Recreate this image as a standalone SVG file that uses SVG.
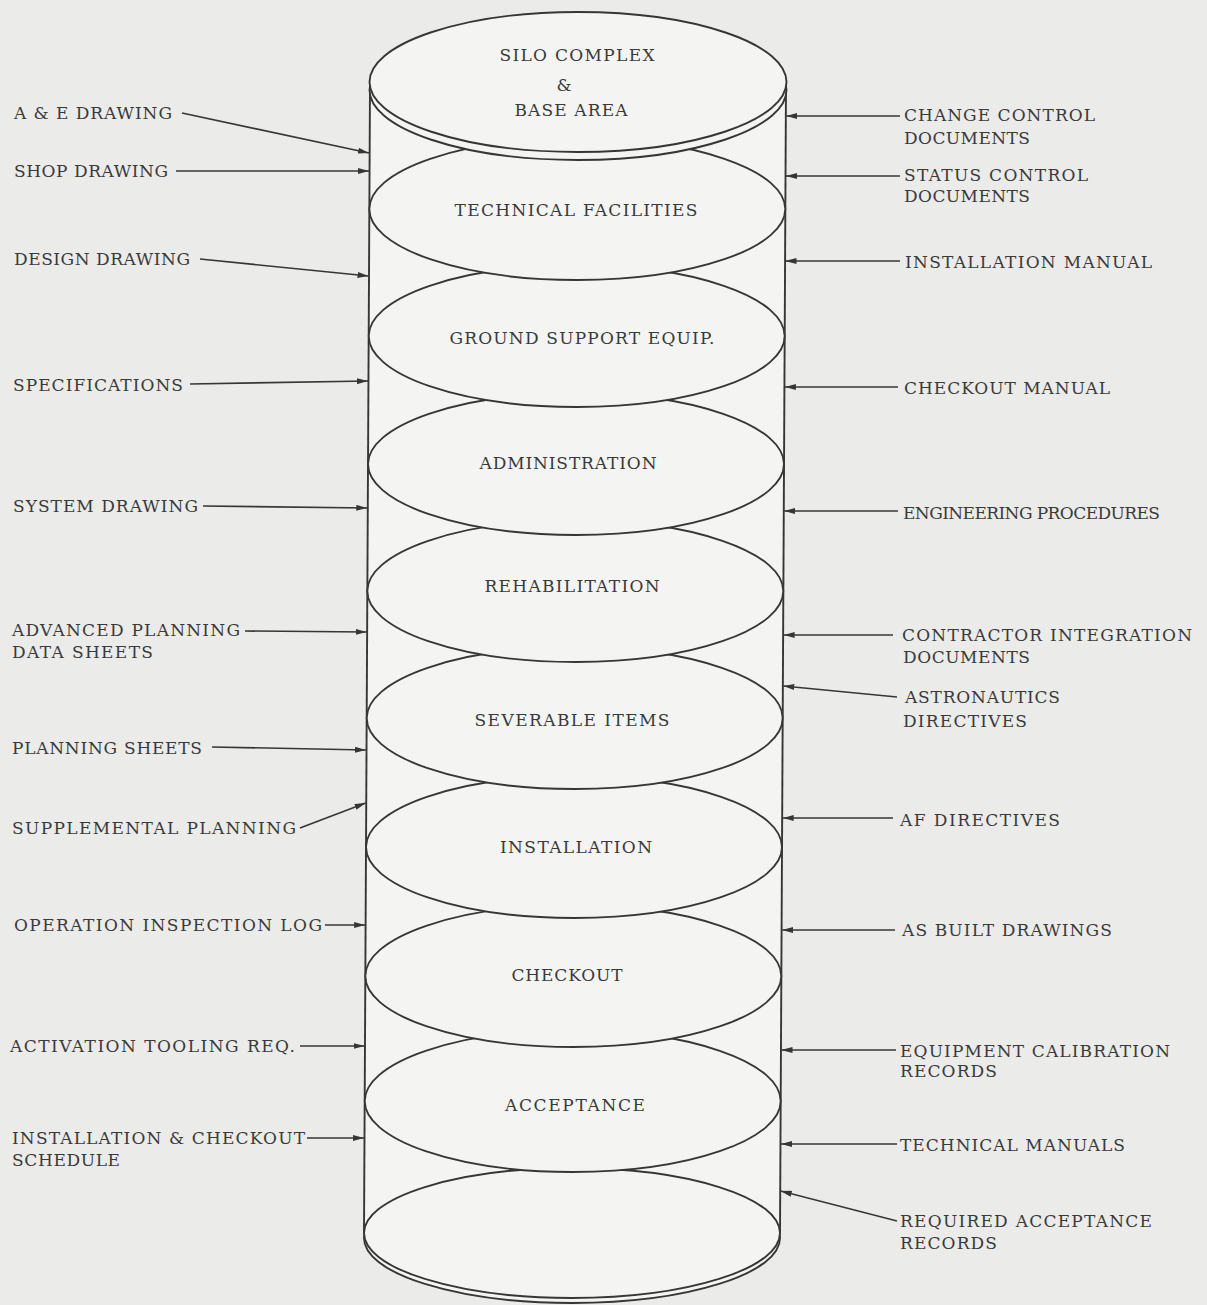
<svg xmlns="http://www.w3.org/2000/svg" width="1207" height="1305" viewBox="0 0 1207 1305">
  <style>
    .bg { fill: #ebebe9; }
    .body { fill: #f4f4f2; stroke: none; }
    .side { stroke: #363636; stroke-width: 1.9; fill: none; }
    .disc { fill: #f4f4f2; stroke: #363636; stroke-width: 1.9; }
    .lbl { font-family: "DejaVu Serif", "Liberation Serif", serif; font-size: 17px; fill: #3a3a3a; }
    .mid { text-anchor: middle; }
    .conn { stroke: #363636; stroke-width: 1.6; fill: none; marker-end: url(#tip); }
  </style>
  <defs>
    <marker id="tip" viewBox="0 0 11 6" refX="11" refY="3" markerWidth="11" markerHeight="6" markerUnits="userSpaceOnUse" orient="auto">
      <path d="M0,0 L11,3 L0,6 Z" fill="#363636"/>
    </marker>
  </defs>

  <rect class="bg" x="0" y="0" width="1207" height="1305"/>

  <!-- cylinder body and walls -->
  <g id="cylinder-body">
    <path class="body" d="M370,85 L786,85 L780,1233 L364,1233 Z"/>
    <line class="side" x1="370" y1="85" x2="364" y2="1233"/>
    <line class="side" x1="786" y1="85" x2="780" y2="1233"/>
  </g>

  <!-- stacked discs, drawn from the bottom up so each upper disc covers the one below -->
  <g id="base-disc">
    <ellipse class="disc" cx="572" cy="1238" rx="208" ry="65"/>
    <ellipse class="disc" cx="572" cy="1233" rx="208" ry="65"/>
  </g>
  <g id="acceptance">
    <ellipse class="disc" cx="572.7" cy="1101" rx="208" ry="71"/>
    <text class="lbl mid" x="575" y="1111" textLength="140" lengthAdjust="spacing">ACCEPTANCE</text>
  </g>
  <g id="checkout">
    <ellipse class="disc" cx="573.3" cy="976" rx="208" ry="71"/>
    <text class="lbl mid" x="567" y="981" textLength="111" lengthAdjust="spacing">CHECKOUT</text>
  </g>
  <g id="installation">
    <ellipse class="disc" cx="574" cy="847" rx="208" ry="71"/>
    <text class="lbl mid" x="576" y="853" textLength="152" lengthAdjust="spacing">INSTALLATION</text>
  </g>
  <g id="severable-items">
    <ellipse class="disc" cx="574.7" cy="718" rx="208" ry="71"/>
    <text class="lbl mid" x="572" y="726" textLength="195" lengthAdjust="spacing">SEVERABLE ITEMS</text>
  </g>
  <g id="rehabilitation">
    <ellipse class="disc" cx="575.3" cy="591" rx="208" ry="71"/>
    <text class="lbl mid" x="572" y="592" textLength="175" lengthAdjust="spacing">REHABILITATION</text>
  </g>
  <g id="administration">
    <ellipse class="disc" cx="576" cy="464" rx="208" ry="71"/>
    <text class="lbl mid" x="568" y="469" textLength="177" lengthAdjust="spacing">ADMINISTRATION</text>
  </g>
  <g id="ground-support-equip">
    <ellipse class="disc" cx="576.7" cy="336" rx="208" ry="71"/>
    <text class="lbl mid" x="582" y="344" textLength="265" lengthAdjust="spacing">GROUND SUPPORT EQUIP.</text>
  </g>
  <g id="technical-facilities">
    <ellipse class="disc" cx="577.3" cy="209" rx="208" ry="71"/>
    <text class="lbl mid" x="576" y="216" textLength="243" lengthAdjust="spacing">TECHNICAL FACILITIES</text>
  </g>
  <g id="silo-complex">
    <ellipse class="disc" cx="578" cy="90" rx="208.5" ry="70"/>
    <ellipse class="disc" cx="578" cy="82" rx="208.5" ry="70"/>
    <text class="lbl mid" x="577" y="61" textLength="155" lengthAdjust="spacing">SILO COMPLEX</text>
    <text class="lbl mid" x="564" y="91">&amp;</text>
    <text class="lbl mid" x="571" y="116" textLength="113" lengthAdjust="spacing">BASE AREA</text>
  </g>

  <!-- left-hand inputs -->
  <g id="in-ae-drawing"><text class="lbl" x="14" y="119" textLength="158" lengthAdjust="spacing">A &amp; E DRAWING</text></g>
  <g id="in-shop-drawing"><text class="lbl" x="14" y="177" textLength="154" lengthAdjust="spacing">SHOP DRAWING</text></g>
  <g id="in-design-drawing"><text class="lbl" x="14" y="265" textLength="176" lengthAdjust="spacing">DESIGN DRAWING</text></g>
  <g id="in-specifications"><text class="lbl" x="13" y="391" textLength="170" lengthAdjust="spacing">SPECIFICATIONS</text></g>
  <g id="in-system-drawing"><text class="lbl" x="13" y="512" textLength="185" lengthAdjust="spacing">SYSTEM DRAWING</text></g>
  <g id="in-advanced-planning">
    <text class="lbl" x="12" y="636" textLength="228" lengthAdjust="spacing">ADVANCED PLANNING</text>
    <text class="lbl" x="12" y="658" textLength="141" lengthAdjust="spacing">DATA SHEETS</text>
  </g>
  <g id="in-planning-sheets"><text class="lbl" x="12" y="754" textLength="190" lengthAdjust="spacing">PLANNING SHEETS</text></g>
  <g id="in-supplemental-planning"><text class="lbl" x="12" y="834" textLength="284" lengthAdjust="spacing">SUPPLEMENTAL PLANNING</text></g>
  <g id="in-operation-inspection-log"><text class="lbl" x="14" y="931" textLength="308" lengthAdjust="spacing">OPERATION INSPECTION LOG</text></g>
  <g id="in-activation-tooling"><text class="lbl" x="10" y="1052" textLength="285" lengthAdjust="spacing">ACTIVATION TOOLING REQ.</text></g>
  <g id="in-ic-schedule">
    <text class="lbl" x="12" y="1144" textLength="293" lengthAdjust="spacing">INSTALLATION &amp; CHECKOUT</text>
    <text class="lbl" x="12" y="1166" textLength="108" lengthAdjust="spacing">SCHEDULE</text>
  </g>

  <!-- right-hand inputs -->
  <g id="in-change-control">
    <text class="lbl" x="904" y="121" textLength="191" lengthAdjust="spacing">CHANGE CONTROL</text>
    <text class="lbl" x="904" y="144" textLength="126" lengthAdjust="spacing">DOCUMENTS</text>
  </g>
  <g id="in-status-control">
    <text class="lbl" x="904" y="181" textLength="184" lengthAdjust="spacing">STATUS CONTROL</text>
    <text class="lbl" x="904" y="202" textLength="126" lengthAdjust="spacing">DOCUMENTS</text>
  </g>
  <g id="in-installation-manual"><text class="lbl" x="905" y="268" textLength="247" lengthAdjust="spacing">INSTALLATION MANUAL</text></g>
  <g id="in-checkout-manual"><text class="lbl" x="904" y="394" textLength="206" lengthAdjust="spacing">CHECKOUT MANUAL</text></g>
  <g id="in-engineering-procedures"><text class="lbl" x="903" y="519" textLength="257" lengthAdjust="spacing">ENGINEERING PROCEDURES</text></g>
  <g id="in-contractor-integration">
    <text class="lbl" x="902" y="641" textLength="290" lengthAdjust="spacing">CONTRACTOR INTEGRATION</text>
    <text class="lbl" x="903" y="663" textLength="127" lengthAdjust="spacing">DOCUMENTS</text>
  </g>
  <g id="in-astronautics-directives">
    <text class="lbl" x="905" y="703" textLength="155" lengthAdjust="spacing">ASTRONAUTICS</text>
    <text class="lbl" x="903" y="727" textLength="124" lengthAdjust="spacing">DIRECTIVES</text>
  </g>
  <g id="in-af-directives"><text class="lbl" x="900" y="826" textLength="160" lengthAdjust="spacing">AF DIRECTIVES</text></g>
  <g id="in-as-built"><text class="lbl" x="902" y="936" textLength="210" lengthAdjust="spacing">AS BUILT DRAWINGS</text></g>
  <g id="in-calibration-records">
    <text class="lbl" x="900" y="1057" textLength="270" lengthAdjust="spacing">EQUIPMENT CALIBRATION</text>
    <text class="lbl" x="900" y="1077" textLength="97" lengthAdjust="spacing">RECORDS</text>
  </g>
  <g id="in-technical-manuals"><text class="lbl" x="900" y="1151" textLength="225" lengthAdjust="spacing">TECHNICAL MANUALS</text></g>
  <g id="in-acceptance-records">
    <text class="lbl" x="900" y="1227" textLength="252" lengthAdjust="spacing">REQUIRED ACCEPTANCE</text>
    <text class="lbl" x="900" y="1249" textLength="97" lengthAdjust="spacing">RECORDS</text>
  </g>

  <!-- connectors into the cylinder wall -->
  <g id="connectors">
    <line class="conn" x1="182" y1="113" x2="369" y2="153"/>
    <line class="conn" x1="176" y1="171" x2="369" y2="171"/>
    <line class="conn" x1="200" y1="259" x2="368.5" y2="276"/>
    <line class="conn" x1="190" y1="384" x2="368" y2="381"/>
    <line class="conn" x1="203" y1="506" x2="367.3" y2="508"/>
    <line class="conn" x1="245" y1="631" x2="366.6" y2="632"/>
    <line class="conn" x1="212" y1="747" x2="366" y2="750"/>
    <line class="conn" x1="300" y1="828" x2="365.7" y2="803"/>
    <line class="conn" x1="325" y1="925" x2="365.1" y2="925"/>
    <line class="conn" x1="300" y1="1046" x2="364.5" y2="1046"/>
    <line class="conn" x1="307" y1="1138" x2="364" y2="1138"/>

    <line class="conn" x1="900" y1="116" x2="786.3" y2="116"/>
    <line class="conn" x1="900" y1="176" x2="786" y2="176"/>
    <line class="conn" x1="900" y1="261" x2="785.5" y2="261"/>
    <line class="conn" x1="898" y1="387" x2="784.9" y2="387"/>
    <line class="conn" x1="898" y1="511" x2="784.3" y2="511"/>
    <line class="conn" x1="893" y1="635" x2="783.6" y2="635"/>
    <line class="conn" x1="897" y1="697" x2="783.4" y2="686"/>
    <line class="conn" x1="893" y1="818" x2="782.7" y2="818"/>
    <line class="conn" x1="895" y1="930" x2="782.1" y2="930"/>
    <line class="conn" x1="896" y1="1050" x2="781.5" y2="1050"/>
    <line class="conn" x1="897" y1="1144" x2="781" y2="1144"/>
    <line class="conn" x1="897" y1="1221" x2="780.7" y2="1191"/>
  </g>
</svg>
